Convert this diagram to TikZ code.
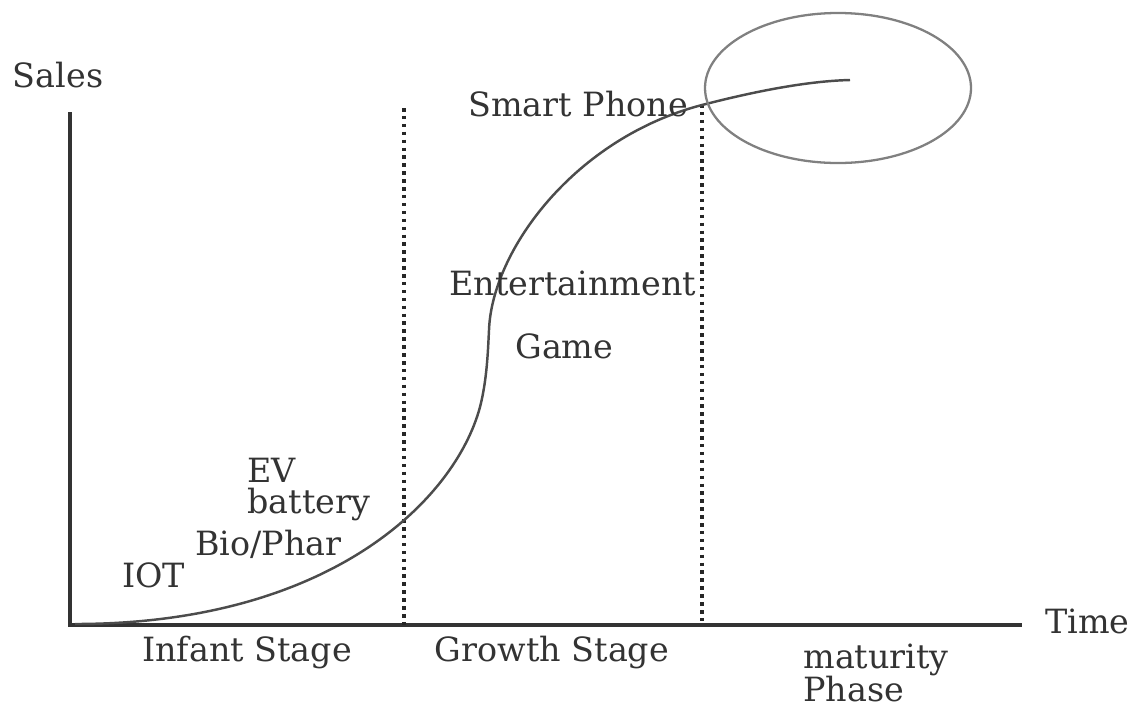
\documentclass[tikz,border=0pt]{standalone}
\usepackage{fontspec}
\setmainfont{DejaVu Serif}
\begin{document}
\begin{tikzpicture}[x=0.02cm,y=-0.02cm,
  lbl/.style={font=\fontsize{19pt}{21pt}\selectfont, text=black!80, inner sep=0pt, anchor=base west, text height=0.72em, text depth=0.12em},
  axis/.style={line width=2.1pt, draw=black!80},
  guide/.style={line width=2pt, draw=black!85, dash pattern=on 2pt off 2.5pt},
  scurve/.style={line width=1.4pt, draw=black!70},
  ring/.style={line width=1.3pt, draw=black!50}]
\useasboundingbox (0,0) rectangle (1132,707);
% axes
\coordinate (O) at (70,625);
\coordinate (ytop) at (70,112);
\coordinate (xend) at (1022,625);
\draw[axis] (ytop) -- (O) -- (xend);
% guides
\coordinate (g1t) at (404,108);
\coordinate (g1b) at (404,625);
\coordinate (g2t) at (702,104);
\coordinate (g2b) at (702,625);
\draw[guide] (g1t) -- (g1b);
\draw[guide] (g2t) -- (g2b);
% curve
\coordinate (c0) at (75,624);
\coordinate (c2) at (480,407);
\coordinate (c3) at (489,330);
\coordinate (c4) at (702,105);
\coordinate (c5) at (850,80);
\draw[scurve] (c0) .. controls (330,624) and (455,500) .. (c2)
  .. controls (487,380) and (488,350) .. (c3)
  .. controls (492,250) and (575,138) .. (c4)
  .. controls (760,90) and (810,81) .. (c5);
% ellipse
\coordinate (ec) at (838,88);
\draw[ring] (ec) ellipse [x radius=133, y radius=75];
% labels
\node[lbl, anchor=base] (sales) at (58,87) {Sales};
\node[lbl] (time) at (1045,633) {Time};
\node[lbl] (smart) at (468,116) {Smart Phone};
\node[lbl] (ent) at (449,295) {Entertainment};
\node[lbl] (game) at (515,358) {Game};
\node[lbl] (ev) at (247,482) {EV};
\node[lbl] (bat) at (247,513) {battery};
\node[lbl] (bio) at (195,555) {Bio/Phar};
\node[lbl] (iot) at (122,587) {IOT};
\node[lbl, anchor=base] (infant) at (247,661) {Infant Stage};
\node[lbl, anchor=base] (growth) at (552,661) {Growth Stage};
\node[lbl] (mat) at (803,668) {maturity};
\node[lbl] (phase) at (803,701) {Phase};
\end{tikzpicture}
\end{document}
